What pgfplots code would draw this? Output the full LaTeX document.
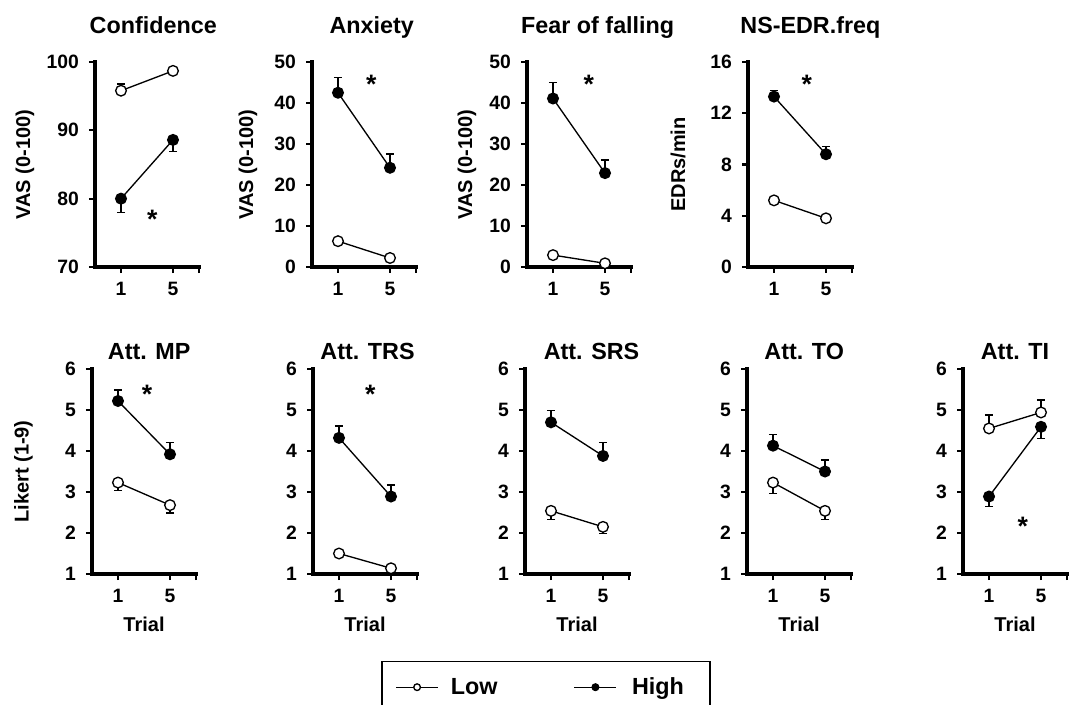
\documentclass[border=0pt]{standalone}
\usepackage{fontspec}
\setmainfont{Liberation Sans}
\usepackage{pgfplots}
\pgfplotsset{compat=1.18}
\pgfplotsset{
 panel/.style={
  scale only axis, width=78pt, height=153.75pt,
  xmin=-0.5, xmax=1.5,
  axis x line*=bottom, axis y line*=left,
  x axis line style={-}, y axis line style={-},
  axis line style={line width=2.4pt, line cap=rect},
  xtick={0,1,1.5}, xticklabels={1,5,{}},
  tick align=outside, major tick length=4.5pt,
  every tick/.append style={black, line width=1.7pt},
  tick label style={font=\bfseries\fontsize{14.5}{17}\selectfont},
  yticklabel shift=4pt, xticklabel shift=3pt,
  /pgf/number format/assume math mode=true,
  label style={font=\bfseries\fontsize{15}{18}\selectfont},
  title style={font=\bfseries\fontsize{17.5}{20}\selectfont, anchor=base},
  clip=false,
 },
 low/.style={black, line width=1pt, mark=*, mark size=4pt, mark options={fill=white, line width=1pt}},
 high/.style={black, line width=1pt, mark=*, mark size=4pt, mark options={fill=black, line width=1pt}},
 eb/.style={error bars/.cd, y dir=#1, y explicit, error bar style={line width=1pt}, error mark options={rotate=90, mark size=3.1pt, line width=1pt}},
 legend image code/.code={\draw[mark repeat=2,mark phase=2,#1, mark size=2.5pt] plot coordinates {(0pt,0pt) (15.75pt,0pt) (31.5pt,0pt)};},
}
\newcommand{\sigstar}[1]{\node[anchor=north, inner sep=0pt, font=\bfseries\fontsize{20}{22}\selectfont] at (#1) {*};}
\begin{document}
\begin{tikzpicture}
\path[use as bounding box] (0,0) rectangle (807.75pt,528pt);
% Confidence
\begin{axis}[panel, at={(71.25pt,327.75pt)}, anchor=south west,
  ymin=70, ymax=100, ytick={70,80,90,100},
  title={Confidence}, title style={at={(axis description cs:0.56,1.101)}},
  ylabel={VAS (0-100)}, ylabel style={at={(axis description cs:-0.673,0.5)}, anchor=center}]
\addplot[low, eb=plus] coordinates {(0,95.8) +- (0,1.0) (1,98.7) +- (0,0)};
\addplot[high, eb=minus] coordinates {(0,80.0) +- (0,2.0) (1,88.6) +- (0,1.7)};
\sigstar{axis cs:0.6,78.3}
\end{axis}
% Anxiety
\begin{axis}[panel, at={(234pt,327.75pt)}, anchor=south west,
  ymin=0, ymax=50, ytick={0,10,...,50},
  title={Anxiety}, title style={at={(axis description cs:0.574,1.101)}},
  ylabel={VAS (0-100)}, ylabel style={at={(axis description cs:-0.615,0.5)}, anchor=center}]
\addplot[low] coordinates {(0,6.3) (1,2.2)};
\addplot[high, eb=plus] coordinates {(0,42.5) +- (0,3.7) (1,24.2) +- (0,3.4)};
\sigstar{axis cs:0.64,46.8}
\end{axis}
% Fear of falling
\begin{axis}[panel, at={(395.25pt,327.75pt)}, anchor=south west,
  ymin=0, ymax=50, ytick={0,10,...,50},
  title={Fear of falling}, title style={at={(axis description cs:0.68,1.101)}},
  ylabel={VAS (0-100)}, ylabel style={at={(axis description cs:-0.577,0.5)}, anchor=center}]
\addplot[low] coordinates {(0,2.9) (1,0.9)};
\addplot[high, eb=plus] coordinates {(0,41.1) +- (0,3.9) (1,22.9) +- (0,3.2)};
\sigstar{axis cs:0.69,46.8}
\end{axis}
% NS-EDR.freq
\begin{axis}[panel, at={(561pt,327.75pt)}, anchor=south west,
  ymin=0, ymax=16, ytick={0,4,...,16},
  title={NS-EDR.freq}, title style={at={(axis description cs:0.6,1.101)}},
  ylabel={EDRs/min}, ylabel style={at={(axis description cs:-0.673,0.5)}, anchor=center}]
\addplot[low] coordinates {(0,5.2) (1,3.8)};
\addplot[high, eb=plus] coordinates {(0,13.3) +- (0,0.5) (1,8.8) +- (0,0.6)};
\sigstar{axis cs:0.63,15.0}
\end{axis}
% Att. MP
\begin{axis}[panel, at={(69pt,97.5pt)}, anchor=south west,
  ymin=1, ymax=6, ytick={1,...,6},
  title={Att. MP}, title style={at={(axis description cs:0.55,1.005)}},
  xlabel={Trial}, xlabel style={at={(axis description cs:0.5,0)}, anchor=base, yshift=-43.3pt},
  ylabel={Likert (1-9)}, ylabel style={at={(axis description cs:-0.66,0.5)}, anchor=center}]
\addplot[low, eb=minus] coordinates {(0,3.23) +- (0,0.2) (1,2.68) +- (0,0.19)};
\addplot[high, eb=plus] coordinates {(0,5.22) +- (0,0.27) (1,3.92) +- (0,0.28)};
\sigstar{axis cs:0.56,5.61}
\end{axis}
% Att. TRS
\begin{axis}[panel, at={(234.75pt,97.5pt)}, anchor=south west,
  ymin=1, ymax=6, ytick={1,...,6},
  title={Att. TRS}, title style={at={(axis description cs:0.524,1.005)}},
  xlabel={Trial}, xlabel style={at={(axis description cs:0.5,0)}, anchor=base, yshift=-43.3pt}]
\addplot[low] coordinates {(0,1.50) (1,1.14)};
\addplot[high, eb=plus] coordinates {(0,4.32) +- (0,0.29) (1,2.89) +- (0,0.28)};
\sigstar{axis cs:0.6,5.61}
\end{axis}
% Att. SRS
\begin{axis}[panel, at={(393.75pt,97.5pt)}, anchor=south west,
  ymin=1, ymax=6, ytick={1,...,6},
  title={Att. SRS}, title style={at={(axis description cs:0.64,1.005)}},
  xlabel={Trial}, xlabel style={at={(axis description cs:0.5,0)}, anchor=base, yshift=-43.3pt},
  legend columns=2,
  legend style={at={(axis description cs:0.202,-0.4244)}, anchor=north, draw=black, line width=1.1pt,
    inner xsep=10pt, inner ysep=10pt, font=\bfseries\fontsize{17.5}{20}\selectfont,
    /tikz/every even column/.append style={column sep=55.25pt}}]
\addplot[low, eb=minus] coordinates {(0,2.54) +- (0,0.21) (1,2.15) +- (0,0.16)};
\addlegendentry{\hspace*{7pt}Low}
\addplot[high, eb=plus] coordinates {(0,4.70) +- (0,0.28) (1,3.88) +- (0,0.32)};
\addlegendentry{\hspace*{9.25pt}High\hspace*{7.5pt}}
\end{axis}
% Att. TO
\begin{axis}[panel, at={(560.25pt,97.5pt)}, anchor=south west,
  ymin=1, ymax=6, ytick={1,...,6},
  title={Att. TO}, title style={at={(axis description cs:0.55,1.005)}},
  xlabel={Trial}, xlabel style={at={(axis description cs:0.5,0)}, anchor=base, yshift=-43.3pt}]
\addplot[low, eb=minus] coordinates {(0,3.23) +- (0,0.26) (1,2.54) +- (0,0.21)};
\addplot[high, eb=plus] coordinates {(0,4.13) +- (0,0.28) (1,3.50) +- (0,0.28)};
\end{axis}
% Att. TI
\begin{axis}[panel, at={(722.25pt,97.5pt)}, anchor=south west,
  ymin=1, ymax=6, ytick={1,...,6},
  title={Att. TI}, title style={at={(axis description cs:0.5,1.005)}},
  xlabel={Trial}, xlabel style={at={(axis description cs:0.5,0)}, anchor=base, yshift=-43.3pt}]
\addplot[low, eb=plus] coordinates {(0,4.55) +- (0,0.33) (1,4.94) +- (0,0.30)};
\addplot[high, eb=minus] coordinates {(0,2.89) +- (0,0.25) (1,4.59) +- (0,0.28)};
\sigstar{axis cs:0.65,2.39}
\end{axis}
\end{tikzpicture}
\end{document}
